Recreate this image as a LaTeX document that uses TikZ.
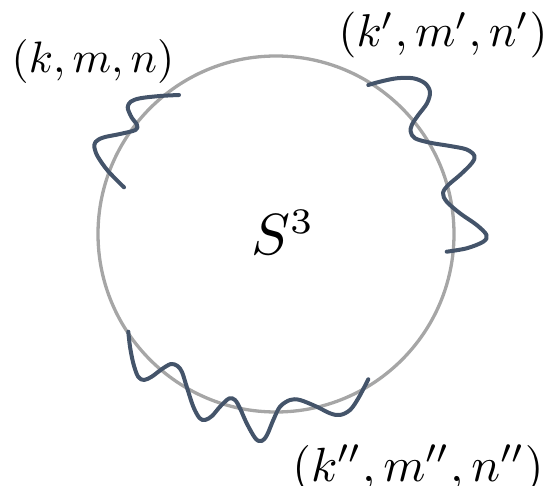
\documentclass[tikz,border=0pt]{standalone}
\usepackage{graphicx}
\begin{document}
\definecolor{ringgray}{HTML}{A6A6A6}
\definecolor{wavecol}{HTML}{44546A}
\begin{tikzpicture}[x=1pt,y=-1pt,
  ring/.style={draw=ringgray,line width=3.3pt},
  wave/.style={draw=wavecol,line width=4pt,line cap=round,line join=round},
  lbl/.style={inner sep=0pt,anchor=base}]
\useasboundingbox (0,0) rectangle (549,486);
\draw[ring] (276,234) circle[radius=178pt];
% upper-left wave
\draw[wave] plot[smooth,tension=0.55] coordinates {
 (179,95) (160,96) (140,98.3) (130.7,101.7) (127.7,107) (129,112)
 (132,118) (137,125) (135.5,130) (120,134) (103.3,137.5) (95.5,142) (94.5,148)
 (98,157) (108,171) (124,187.3)};
% right wave
\draw[wave] plot[smooth,tension=0.55] coordinates {
 (368.3,85) (380,81.7) (396.7,78.3) (413.3,78.3) (425,83.3) (430,92)
 (427,103.3) (418.3,115) (412,124.5) (410.7,131.7)
 (415,138.3) (430,142.7) (450,146) (466.7,149.5) (474.5,156)
 (471.7,163.3) (460,175) (448.3,185) (443,193)
 (446.7,201.7) (460,213.3) (476.7,225) (486.5,235)
 (483.3,241.7) (466.7,248.3) (446.7,251.7)};
% bottom wave
\draw[wave] plot[smooth,tension=0.55] coordinates {
 (128.3,331.7) (130,346.7) (133.3,363.3) (138,376.5) (144,380)
 (152,376.5) (162,369) (171,364) (177.5,366) (182,372)
 (186.7,386.7) (193.3,406.7) (199.5,418) (205,420)
 (212,416) (220,406.7) (229,398.5) (235,400) (240,408.3)
 (246.7,423.3) (255.5,438.5) (261.7,441) (267,435)
 (273.3,420) (280,406.7) (290,400) (300,400) (316.7,406.7)
 (330,413.3) (340,415) (350,410) (358.3,398.3) (368.3,379.3)};
\node[lbl] (lab1) at (93,73) {\scalebox{4.4}{$(k,m,n)$}};
\node[lbl] (lab2) at (443,47) {\scalebox{4.6}{$(k',m',n')$}};
\node[lbl] (lab3) at (418,481) {\scalebox{4.8}{$(k'',m'',n'')$}};
\node[inner sep=0pt,anchor=base west] (sph) at (251,255) {\scalebox{5.8}{$S^{\mbox{\fontsize{6.2}{6.2}\selectfont 3}}$}};
\end{tikzpicture}
\end{document}
